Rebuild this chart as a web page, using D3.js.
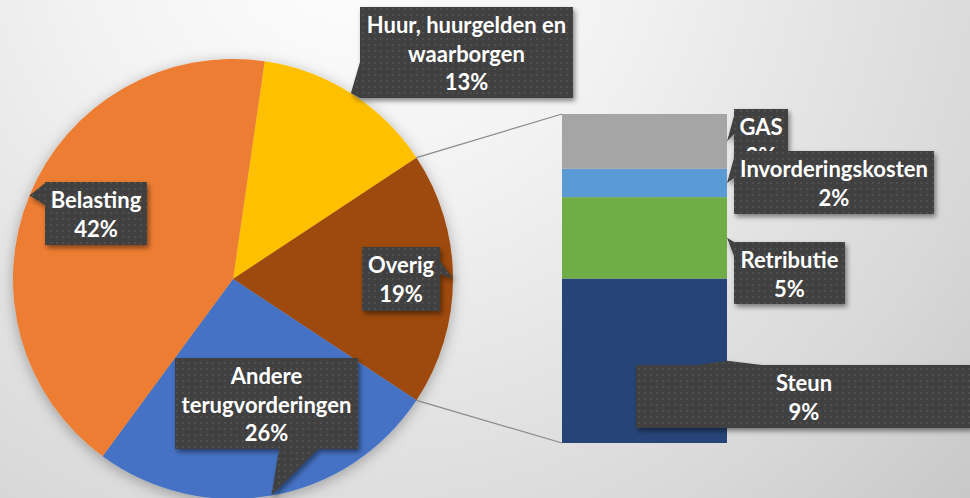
<!DOCTYPE html>
<html><head><meta charset="utf-8">
<script src="https://cdn.jsdelivr.net/npm/d3@7"></script>
<style>html,body{margin:0;padding:0;overflow:hidden;background:#eee}</style>
</head><body><svg id="c" width="970" height="498"></svg>
<script>
// ---- data ----
const pieCategories = ["Huur, huurgelden en waarborgen", "Overig", "Andere terugvorderingen", "Belasting"];
const pieValues = [13.4, 18.6, 25.8, 42.2];
const pieColors = ["#FFC000", "#9E480E", "#4472C4", "#ED7D31"];
const barCategories = ["Steun", "Retributie", "Invorderingskosten", "GAS"];
const barValues = [9.3, 4.6, 1.6, 3.1];
const barColors = ["#264478", "#70AD47", "#5B9BD5", "#A5A5A5"];

// ---- layout ----
const W = 970, H = 498;
const cx = 233, cy = 279, R = 220;
const barX0 = 562, barX1 = 727, barTop = 114, barBottom = 443;
const FONT = "Lato, 'Open Sans', sans-serif", FS = 22, LH = 28.5;
// label boxes: [x0,y0,x1,y1], tail side and base range along side
const pieBoxes = {
  "Huur, huurgelden en waarborgen": {b:[360,7,573,98], side:"left", base:[62,98]},
  "Overig": {b:[362,247,440,311], side:"right", base:[261,274]},
  "Andere terugvorderingen": {b:[175,358,358,449], side:"bottom", base:[279,318]},
  "Belasting": {b:[45,182,147,245], side:"left", base:[183,205]}
};
const barBoxes = {
  "GAS": {b:[734,109,788,172], side:"left", base:[116,134]},
  "Invorderingskosten": {b:[734,151,934,214], side:"left", base:[158,178]},
  "Retributie": {b:[734,242,845,304], side:"left", base:[242,256]},
  "Steun": {b:[636,365,972,428], side:"top", base:[697,762]}
};
const barDrawOrder = ["GAS", "Invorderingskosten", "Retributie", "Steun"];

const svg = d3.select("#c");
const defs = svg.append("defs");
const rg = defs.append("radialGradient").attr("id","bg").attr("gradientUnits","userSpaceOnUse")
  .attr("cx",350).attr("cy",-80).attr("r",950);
[[0,"#ffffff"],[0.3,"#f2f2f2"],[0.7,"#d8d8d8"],[1,"#bfbfbf"]].forEach(s=>rg.append("stop").attr("offset",s[0]).attr("stop-color",s[1]));
const pat = defs.append("pattern").attr("id","dots").attr("patternUnits","userSpaceOnUse").attr("width",6).attr("height",6);
pat.append("rect").attr("width",6).attr("height",6).attr("fill","#404040");
pat.append("circle").attr("cx",3).attr("cy",3).attr("r",0.9).attr("fill","#575757");
const sh = defs.append("filter").attr("id","shadow").attr("x","-20%").attr("y","-20%").attr("width","140%").attr("height","140%");
sh.append("feDropShadow").attr("dx",2).attr("dy",3).attr("stdDeviation",2.5).attr("flood-color","#000").attr("flood-opacity",0.45);
const psh = defs.append("filter").attr("id","pshadow").attr("x","-20%").attr("y","-20%").attr("width","140%").attr("height","140%");
psh.append("feDropShadow").attr("dx",0).attr("dy",3).attr("stdDeviation",7).attr("flood-color","#000").attr("flood-opacity",0.3);

svg.append("rect").attr("width",W).attr("height",H).attr("fill","url(#bg)");

// ---- pie ----
const total = d3.sum(pieValues);
const iOverig = pieCategories.indexOf("Overig");
const before = d3.sum(pieValues.slice(0,iOverig));
const startA = Math.PI/2 - (before + pieValues[iOverig]/2)/total*2*Math.PI;
const pie = d3.pie().sort(null).value(d=>d.v).startAngle(startA).endAngle(startA+2*Math.PI);
const arcs = pie(pieCategories.map((c,i)=>({c, v:pieValues[i], col:pieColors[i]})));
const arc = d3.arc().innerRadius(0).outerRadius(R);
const gp = svg.append("g").attr("transform",`translate(${cx},${cy})`);
gp.append("g").attr("filter","url(#pshadow)").selectAll("path").data(arcs).join("path")
  .attr("d",arc).attr("fill",d=>d.data.col);
const edge = a => [cx + R*Math.sin(a), cy - R*Math.cos(a)];

// ---- bar ----
const barTotal = d3.sum(barValues);
const y = d3.scaleLinear().domain([0, barTotal]).range([barBottom, barTop]);
const x = d3.scaleBand().domain(["Overig"]).range([barX0, barX1]).padding(0);
let acc = 0;
const segs = barCategories.map((c,i)=>{ const s={c, v:barValues[i], col:barColors[i], y0:acc, y1:acc+barValues[i]}; acc+=barValues[i]; return s;});
const gb = svg.append("g");
gb.selectAll("rect").data(segs).join("rect")
  .attr("x", x("Overig")).attr("width", x.bandwidth())
  .attr("y", d=>y(d.y1)).attr("height", d=>y(d.y0)-y(d.y1))
  .attr("fill", d=>d.col);

// connector lines
const ov = arcs[iOverig];
const p1 = edge(ov.startAngle), p2 = edge(ov.endAngle);
svg.append("line").attr("x1",p1[0]).attr("y1",p1[1]).attr("x2",x("Overig")).attr("y2",y(barTotal)).attr("stroke","#8a8a8a").attr("stroke-width",1.2);
svg.append("line").attr("x1",p2[0]).attr("y1",p2[1]).attr("x2",x("Overig")).attr("y2",y(0)).attr("stroke","#8a8a8a").attr("stroke-width",1.2);

// ---- labels ----
const gl = svg.append("g");
const meas = svg.append("text").attr("font-family",FONT).attr("font-size",FS).attr("font-weight","bold").attr("visibility","hidden");
function textW(s){ meas.text(s); return meas.node().getComputedTextLength(); }
function wrap(s, maxW){
  const words = s.split(" "); const lines=[]; let cur="";
  words.forEach(w=>{ const t = cur? cur+" "+w : w; if (cur && textW(t)>maxW){ lines.push(cur); cur=w; } else cur=t; });
  lines.push(cur); return lines;
}
function callout(spec, tip, name, pct){
  const [x0,y0,x1,y1] = spec.b;
  let pts;
  const [a,b] = spec.base;
  if (spec.side==="left") pts=[[x0,y0],[x1,y0],[x1,y1],[x0,y1],[x0,b],tip,[x0,a]];
  else if (spec.side==="right") pts=[[x0,y0],[x1,y0],[x1,a],tip,[x1,b],[x1,y1],[x0,y1]];
  else if (spec.side==="bottom") pts=[[x0,y0],[x1,y0],[x1,y1],[b,y1],tip,[a,y1],[x0,y1]];
  else pts=[[x0,y0],[a,y0],tip,[b,y0],[x1,y0],[x1,y1],[x0,y1]];
  const g = gl.append("g");
  g.append("path").attr("d", d3.line()(pts)+"Z").attr("fill","url(#dots)").attr("filter","url(#shadow)");
  const lines = wrap(name, (x1-x0)-10).concat([pct]);
  const mx = (x0+x1)/2;
  g.selectAll("text").data(lines).join("text")
    .attr("x", mx).attr("y",(d,i)=>y0+26+i*LH)
    .attr("text-anchor","middle").attr("fill","#fff")
    .attr("font-family",FONT).attr("font-size",FS).attr("font-weight","bold")
    .text(d=>d);
}
arcs.forEach(d=>{
  const spec = pieBoxes[d.data.c];
  const tip = edge((d.startAngle+d.endAngle)/2);
  callout(spec, tip, d.data.c, Math.round(d.data.v)+"%");
});
barDrawOrder.forEach(c=>{
  const s = segs.find(q=>q.c===c);
  const tip = [x("Overig")+x.bandwidth(), (y(s.y0)+y(s.y1))/2];
  callout(barBoxes[c], tip, c, Math.round(s.v)+"%");
});
meas.remove();
</script></body></html>
